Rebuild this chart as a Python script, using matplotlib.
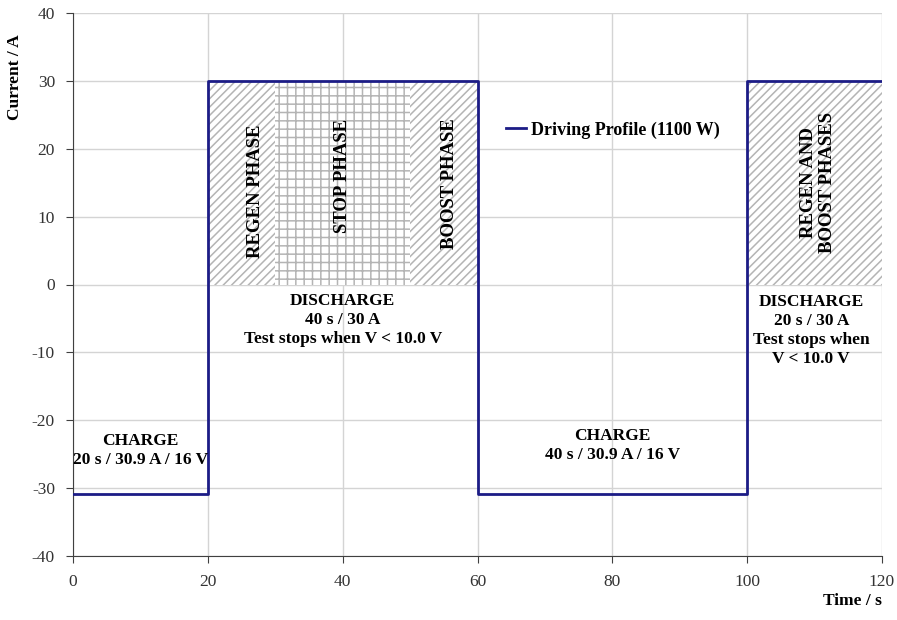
import numpy as np
import matplotlib.pyplot as plt

# step profile of the driving cycle
time_s = [0, 20, 20, 60, 60, 100, 100, 120]
current_a = [-30.9, -30.9, 30, 30, -30.9, -30.9, 30, 30]

# shaded phase blocks: (start, end, hatch)
phases_start = [20, 30, 50, 100]
phases_end = [30, 50, 60, 120]
phases_hatch = ['////', '++', '////', '////']
phase_top = 30

plt.rcParams['font.family'] = ['Liberation Serif', 'DejaVu Serif']
plt.rcParams['axes.unicode_minus'] = False
plt.rcParams['hatch.color'] = '#b4b4b4'
plt.rcParams['hatch.linewidth'] = 1.1

fig = plt.figure(figsize=(8.97, 6.2), dpi=100)
ax = fig.add_axes([73 / 897, 1 - 556 / 620, 809 / 897, 543 / 620])

for s, e, h in zip(phases_start, phases_end, phases_hatch):
    ax.fill_between([s, e], 0, phase_top, facecolor='white', edgecolor='#b4b4b4',
                    hatch=h, linewidth=0, zorder=1)

ax.plot(time_s, current_a, color='#1c1c86', lw=2, zorder=3, label='Driving Profile (1100 W)')

ax.set_xlim(0, 120)
ax.set_ylim(-40, 40)
ax.set_xticks(np.arange(0, 121, 20))
ax.set_yticks(np.arange(-40, 41, 10))
ax.grid(True, color='#d4d4d4', lw=1)
ax.set_axisbelow(True)
for side in ['top', 'right']:
    ax.spines[side].set_visible(False)
for side in ['left', 'bottom']:
    ax.spines[side].set_color('#404040')
ax.tick_params(direction='out', length=5, color='#404040', labelsize=12.5, labelcolor='#333333', pad=8)

ax.set_xlabel('Time / s', fontsize=12.5, fontweight='bold')
ax.xaxis.set_label_coords(1.0, -0.068)
ax.xaxis.label.set_horizontalalignment('right')
ax.set_ylabel('Current / A', fontsize=12.5, fontweight='bold')
ax.yaxis.set_label_coords(-0.062, 0.882)

kw = dict(fontsize=12.5, fontweight='bold', ha='center', va='center', zorder=4)
rot = dict(kw, fontsize=13.5, rotation=90)
ax.text(27.1, 13.8, 'REGEN PHASE', **rot)
ax.text(40, 16, 'STOP PHASE', **rot)
ax.text(55.8, 14.9, 'BOOST PHASE', **rot)
ax.text(110.5, 15, 'REGEN AND\nBOOST PHASES', linespacing=1.1, **rot)
ax.text(40, -5.3, 'DISCHARGE\n40 s / 30 A\nTest stops when V < 10.0 V', linespacing=1.25, **kw)
ax.text(109.5, -6.8, 'DISCHARGE\n20 s / 30 A\nTest stops when\nV < 10.0 V', linespacing=1.25, **kw)
ax.text(10, -24.4, 'CHARGE\n20 s / 30.9 A / 16 V', linespacing=1.25, **kw)
ax.text(80, -23.7, 'CHARGE\n40 s / 30.9 A / 16 V', linespacing=1.25, **kw)

ax.legend(loc='upper left', bbox_to_anchor=(0.515, 0.83), frameon=False,
          handlelength=1.1, handletextpad=0.3, prop={'size': 13, 'weight': 'bold'})

fig.savefig('out.png', dpi=100)
